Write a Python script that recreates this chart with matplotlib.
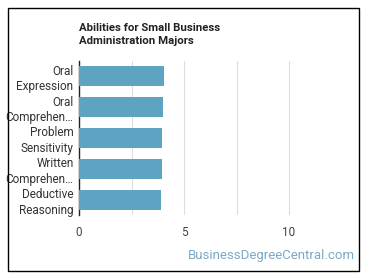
import matplotlib.pyplot as plt
from matplotlib.patches import Rectangle

plt.rcParams["font.family"] = ["Roboto", "DejaVu Sans"]

abilities = [
    "Oral\nExpression",
    "Oral\nComprehen…",
    "Problem\nSensitivity",
    "Written\nComprehen…",
    "Deductive\nReasoning",
]
scores = [4.05, 4.0, 3.95, 3.95, 3.9]
x_ticks = [0, 5, 10]

fig = plt.figure(figsize=(3.7, 2.78), dpi=100)
ax = fig.add_axes([79 / 370, 1 - 215 / 278, 252 / 370, 154 / 278])

y = list(range(len(abilities)))
ax.barh(y, scores, height=0.65, color="#5ea3c1", zorder=3)
ax.set_ylim(len(abilities) - 0.5, -0.5)
ax.set_xlim(0, 12)
ax.set_yticks(y)
ax.set_yticklabels(abilities, fontsize=8.5, color="#333333", linespacing=1.25)
ax.set_xticks(x_ticks)
ax.set_xticklabels([str(t) for t in x_ticks], fontsize=8.5, color="#444444")
ax.set_xticks([2.5, 7.5], minor=True)
ax.tick_params(axis="both", which="both", length=0, pad=4)
ax.tick_params(axis="x", pad=8)
ax.grid(axis="x", which="both", color="#dddddd", linewidth=0.8, zorder=0)
for side in ["top", "right", "bottom"]:
    ax.spines[side].set_visible(False)
ax.spines["left"].set_color("#222222")
ax.spines["left"].set_linewidth(1)

fig.text(79 / 370, 1 - 23 / 278, "Abilities for Small Business\nAdministration Majors",
         fontsize=8.2, fontweight="bold", color="#222222", va="top", ha="left",
         linespacing=1.35)
fig.text(355 / 370, 1 - 255 / 278, "BusinessDegreeCentral.com", fontsize=9.5,
         color="#7aa9c4", ha="right", va="center")

fig.patches.append(Rectangle((8 / 370, 1 - 271 / 278), 351 / 370, 263 / 278,
                             transform=fig.transFigure, fill=False,
                             edgecolor="black", linewidth=1))

fig.savefig("out.png", dpi=100)
